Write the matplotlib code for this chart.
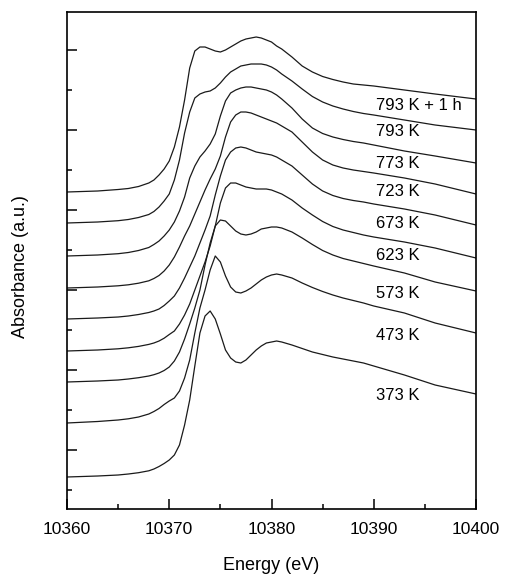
import numpy as np
import matplotlib
matplotlib.use("Agg")
import matplotlib.pyplot as plt
from matplotlib.ticker import MultipleLocator, FixedLocator, NullFormatter

plt.rcParams['font.family'] = ['Liberation Sans', 'DejaVu Sans']

# Energy grid (eV)
energy = [10360, 10363, 10365, 10366, 10367, 10368, 10368.5, 10369, 10369.5, 10370,
          10370.5, 10371, 10371.5, 10372, 10372.5, 10373, 10373.5, 10374, 10374.5,
          10375, 10375.5, 10376, 10376.5, 10377, 10377.5, 10378, 10378.5, 10379,
          10379.5, 10380, 10380.5, 10381, 10382, 10383, 10384, 10385, 10386, 10387,
          10388, 10389, 10390, 10393, 10396, 10400]

# Absorbance (a.u., vertically offset spectra)
abs_793K_1h = [308, 309, 310.5, 311.5, 313.5, 317, 320, 325, 331, 339, 353, 373, 400, 432, 449,
               453, 453, 451, 449, 448, 450, 453, 456, 459, 461, 462, 463, 462, 460, 458,
               454, 451, 443, 434, 428, 423.5, 420.5, 418, 416, 415, 414, 410, 406, 401]
abs_793K = [277, 278, 279.3, 280.5, 282.5, 285.5, 288.5, 293, 299, 306, 320, 340, 367, 388, 402,
            406, 408, 409, 412, 417, 423, 428, 431, 434, 435, 436, 436, 436, 435, 433,
            430, 426, 419, 411, 403.5, 398, 394, 391, 388.5, 386.5, 385, 380, 375, 370]
abs_773K = [244, 245, 246.3, 247.5, 249.5, 252.5, 255.5, 259, 264, 270, 278, 289, 303, 322, 334,
            343, 349, 356, 366, 384, 399, 407, 410, 412, 413, 413, 412, 411, 410, 408,
            405, 401, 392, 381, 372, 366.5, 363, 360.5, 358.5, 357, 355, 349, 344, 337]
abs_723K = [212, 213, 214.2, 215.2, 216.8, 219.2, 221.5, 224.5, 229, 235, 243, 253, 264, 274, 286,
            298, 310, 321, 331, 344, 363, 378, 385, 388, 388, 387, 385, 383, 381, 379,
            377, 374, 368, 358, 348, 340, 335, 332, 330, 328.5, 327, 322, 316, 306]
abs_673K = [181, 182, 183, 184, 185.5, 187.5, 189, 191, 194.5, 199, 204, 212, 222, 233, 244,
            257, 270, 284, 305, 324, 340, 348, 352, 353, 352, 350, 348, 347, 346, 345,
            343, 340, 334, 325, 316, 309, 304.5, 301.5, 299.5, 298, 296, 291, 285, 275]
abs_623K = [149, 150, 151.2, 152.2, 153.6, 155.6, 157, 159, 161.8, 165.5, 169, 176, 185, 196, 210,
            224, 238, 254, 274, 297, 312, 317, 317, 315, 313, 312, 311, 311, 311, 310,
            308, 306, 300, 292, 285, 278.5, 273.5, 270, 267.5, 265, 263, 258, 252, 242]
abs_573K = [118, 119, 120, 121, 122.3, 124, 125.3, 127, 129.5, 133, 139, 148, 161, 176, 192,
            210, 235, 257, 274, 280, 279, 274, 269, 266, 265, 266, 268, 271, 272, 273,
            273, 272, 268, 262, 255.5, 249.5, 245, 241.5, 239, 236.5, 234, 227, 218, 209]
abs_473K = [77, 78.5, 80, 81.2, 83, 86, 88.5, 91.5, 95.5, 99, 102, 109, 122, 140, 167,
            192, 210, 230, 244, 238, 224, 213, 208, 207, 209, 212, 216, 220, 223, 225,
            226, 225, 222, 217, 212.5, 208.5, 205, 202, 199.5, 197, 194, 187, 177, 167]
abs_373K = [23, 24, 25, 26, 27.3, 29.2, 31, 33.5, 36.5, 40, 45, 55, 75, 100, 134,
            167, 184, 189, 181, 166, 150, 142, 138, 137, 140, 145, 150, 154, 157, 158,
            159, 158, 155, 151.5, 148, 145.5, 143, 141, 139, 137, 134, 125, 115, 106]

labels = ["793 K + 1 h", "793 K", "773 K", "723 K", "673 K", "623 K", "573 K", "473 K", "373 K"]
label_y = [394, 368, 337, 308, 277, 245, 207, 164, 105]
label_x = 10390.2

series = [abs_793K_1h, abs_793K, abs_773K, abs_723K, abs_673K, abs_623K,
          abs_573K, abs_473K, abs_373K]

fig = plt.figure(figsize=(5.05, 5.75), dpi=100)
ax = fig.add_axes([67 / 505, 1 - 509 / 575, (476 - 67) / 505, (509 - 12) / 575])

for s in series:
    ax.plot(energy, s, color='#1a1a1a', lw=0.9, solid_joinstyle='round')

for lab, ly in zip(labels, label_y):
    ax.text(label_x, ly, lab, fontsize=12, va='center', ha='left', color='black')

ax.set_xlim(10360, 10400)
ax.set_ylim(-9, 488)
ax.xaxis.set_major_locator(MultipleLocator(10))
ax.xaxis.set_minor_locator(MultipleLocator(5))
ax.yaxis.set_major_locator(FixedLocator([50, 130, 210, 290, 370, 450]))
ax.yaxis.set_minor_locator(FixedLocator([10, 90, 170, 250, 330, 410]))
ax.yaxis.set_major_formatter(NullFormatter())

ax.tick_params(axis='both', which='both', direction='in', top=False, right=False,
               color='black')
ax.tick_params(axis='both', which='major', length=7, width=1.1)
ax.tick_params(axis='both', which='minor', length=3.5, width=1.1)
ax.tick_params(axis='x', which='major', labelsize=12.5, pad=9)

for sp in ax.spines.values():
    sp.set_linewidth(1.2)
    sp.set_color('black')

ax.set_xlabel("Energy (eV)", fontsize=13)
ax.set_ylabel("Absorbance (a.u.)", fontsize=13)
ax.xaxis.set_label_coords(0.5, -0.097)
ax.yaxis.set_label_coords(-0.093, 0.487)

fig.savefig("out.png", dpi=100)
